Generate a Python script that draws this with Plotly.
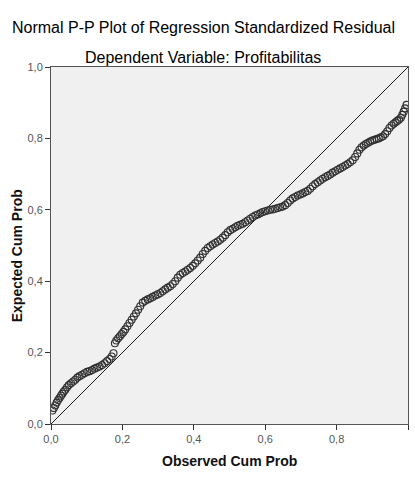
import plotly.graph_objects as go

observed = [0.004, 0.008, 0.012, 0.016, 0.020, 0.024, 0.028, 0.032, 0.036, 0.040, 0.045, 0.050, 0.056, 0.062, 0.068, 0.074, 0.080, 0.087, 0.094, 0.101, 0.108, 0.115, 0.122, 0.129, 0.136, 0.143, 0.150, 0.157, 0.164, 0.170, 0.175, 0.179, 0.183, 0.188, 0.193, 0.198, 0.203, 0.208, 0.214, 0.220, 0.226, 0.232, 0.238, 0.244, 0.250, 0.257, 0.264, 0.271, 0.278, 0.285, 0.292, 0.299, 0.306, 0.313, 0.320, 0.327, 0.334, 0.341, 0.348, 0.355, 0.362, 0.369, 0.376, 0.383, 0.390, 0.397, 0.404, 0.411, 0.418, 0.425, 0.432, 0.439, 0.446, 0.453, 0.460, 0.467, 0.474, 0.481, 0.488, 0.495, 0.502, 0.509, 0.516, 0.523, 0.530, 0.537, 0.544, 0.551, 0.558, 0.565, 0.572, 0.579, 0.586, 0.593, 0.600, 0.607, 0.614, 0.621, 0.628, 0.635, 0.642, 0.649, 0.656, 0.663, 0.670, 0.677, 0.684, 0.691, 0.698, 0.705, 0.712, 0.719, 0.726, 0.733, 0.740, 0.747, 0.754, 0.761, 0.768, 0.775, 0.782, 0.789, 0.796, 0.803, 0.810, 0.817, 0.824, 0.831, 0.838, 0.845, 0.852, 0.858, 0.864, 0.870, 0.876, 0.882, 0.888, 0.894, 0.900, 0.906, 0.912, 0.918, 0.924, 0.930, 0.936, 0.942, 0.948, 0.954, 0.960, 0.965, 0.970, 0.975, 0.980, 0.984, 0.988, 0.992, 0.996]

expected = [0.038, 0.045, 0.052, 0.060, 0.067, 0.073, 0.079, 0.085, 0.091, 0.096, 0.103, 0.109, 0.114, 0.119, 0.124, 0.130, 0.134, 0.138, 0.142, 0.146, 0.148, 0.151, 0.155, 0.158, 0.161, 0.165, 0.170, 0.176, 0.182, 0.189, 0.198, 0.226, 0.234, 0.240, 0.246, 0.252, 0.258, 0.265, 0.274, 0.283, 0.292, 0.301, 0.310, 0.320, 0.330, 0.340, 0.345, 0.349, 0.352, 0.356, 0.360, 0.363, 0.367, 0.372, 0.377, 0.382, 0.386, 0.392, 0.400, 0.410, 0.418, 0.423, 0.427, 0.432, 0.437, 0.443, 0.450, 0.458, 0.466, 0.476, 0.485, 0.493, 0.498, 0.503, 0.507, 0.511, 0.516, 0.522, 0.529, 0.537, 0.543, 0.547, 0.551, 0.555, 0.558, 0.561, 0.565, 0.570, 0.575, 0.580, 0.584, 0.587, 0.590, 0.594, 0.596, 0.598, 0.600, 0.601, 0.603, 0.605, 0.607, 0.609, 0.613, 0.619, 0.626, 0.632, 0.636, 0.640, 0.643, 0.646, 0.650, 0.653, 0.659, 0.666, 0.672, 0.677, 0.682, 0.687, 0.691, 0.695, 0.699, 0.704, 0.708, 0.712, 0.716, 0.720, 0.724, 0.728, 0.733, 0.739, 0.748, 0.758, 0.768, 0.775, 0.780, 0.784, 0.788, 0.791, 0.794, 0.796, 0.798, 0.800, 0.803, 0.806, 0.812, 0.820, 0.829, 0.836, 0.841, 0.845, 0.849, 0.853, 0.858, 0.866, 0.875, 0.884, 0.894]

ref_line_x = [0.0, 1.0]
ref_line_y = [0.0, 1.0]
tick_vals = [0.0, 0.2, 0.4, 0.6, 0.8, 1.0]
tick_text = ["0,0", "0,2", "0,4", "0,6", "0,8", "1,0"]

FONT = "Liberation Sans, Arial, sans-serif"

fig = go.Figure()
fig.add_trace(go.Scatter(
    x=ref_line_x, y=ref_line_y, mode="lines",
    line=dict(color="#1a1a1a", width=1), hoverinfo="skip", showlegend=False))
fig.add_trace(go.Scatter(
    x=observed, y=expected, mode="markers",
    marker=dict(symbol="circle-open", size=7, color="#2e2e2e",
                line=dict(width=1.1, color="#2e2e2e")),
    showlegend=False))

axis_common = dict(
    range=[0, 1], tickvals=tick_vals, ticktext=tick_text,
    ticks="outside", ticklen=5, tickcolor="#333333", tickwidth=1,
    showline=True, linecolor="#555555", linewidth=1, mirror=True,
    showgrid=False, zeroline=False,
    tickfont=dict(family=FONT, size=11, color="#555555"),
)

fig.update_layout(
    width=415, height=480,
    margin=dict(l=51, r=7, t=67, b=56),
    paper_bgcolor="white", plot_bgcolor="#f0f0f0",
    xaxis=dict(**axis_common),
    yaxis=dict(**axis_common),
    annotations=[
        dict(text="Normal P-P Plot of Regression Standardized Residual",
             xref="paper", yref="paper", x=0.426, y=1.112, showarrow=False,
             xanchor="center", yanchor="middle",
             font=dict(family=FONT, size=16, color="#000000")),
        dict(text="Dependent Variable: Profitabilitas",
             xref="paper", yref="paper", x=0.426, y=1.026, showarrow=False,
             xanchor="center", yanchor="middle",
             font=dict(family=FONT, size=16, color="#000000")),
        dict(text="<b>Observed Cum Prob</b>",
             xref="paper", yref="paper", x=0.501, y=-0.104, showarrow=False,
             xanchor="center", yanchor="middle",
             font=dict(family=FONT, size=14, color="#111111")),
        dict(text="<b>Expected Cum Prob</b>",
             xref="paper", yref="paper", x=-0.095, y=0.47, showarrow=False,
             xanchor="center", yanchor="middle", textangle=-90,
             font=dict(family=FONT, size=14, color="#111111")),
    ],
)

fig.write_html("out.html")
